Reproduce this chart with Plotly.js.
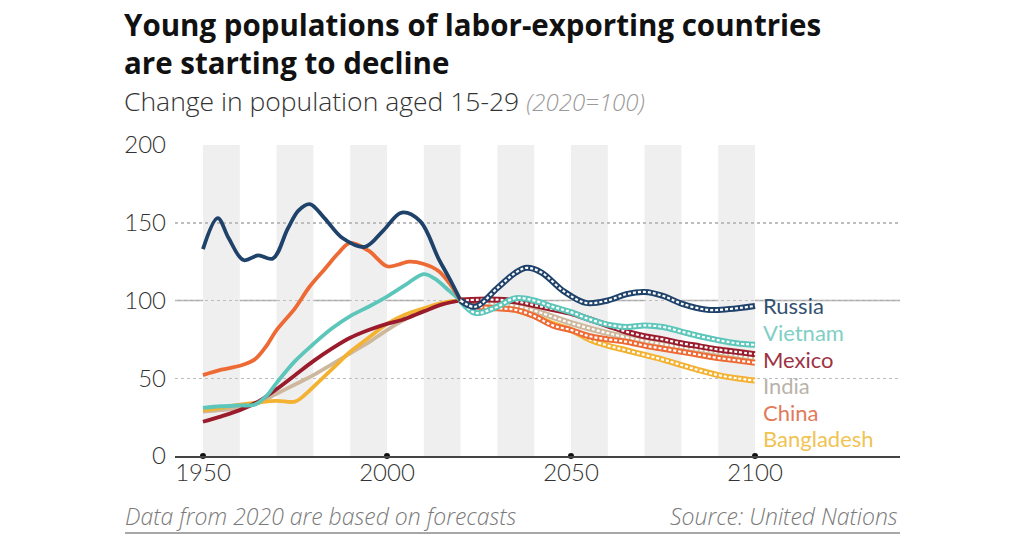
<!DOCTYPE html>
<html>
<head>
<meta charset="utf-8">
<script src="https://cdn.plot.ly/plotly-3.0.1.min.js"></script>
<style>
  html, body { margin: 0; padding: 0; background: #ffffff; }
  #chart { width: 1024px; height: 536px; }
</style>
</head>
<body>
<div id="chart"></div>
<script>
// ---------- data (index, 2020 = 100) ----------
const countries = ["Russia", "Vietnam", "Mexico", "India", "China", "Bangladesh"];

// historical (1950-2020)
const russiaHistYears = [1950,1954,1957,1961,1965,1969,1973,1976,1979,1983,1988,1994,1999,2004,2009,2014,2017,2020];
const russiaHist      = [133,153,140,126,129,127,146,158,162,153,140,134.5,145,156.5,151,127,114,100];

const chinaHistYears = [1950,1955,1960,1964,1967,1970,1975,1979,1983,1987,1990,1995,2000,2003,2006,2010,2014,2017,2020];
const chinaHist      = [52,55.5,58,62,70,81,95,109,120,131,137,132,122,123,125,123.5,119,111,100];

const vietnamHistYears = [1950,1955,1960,1964,1967,1970,1975,1980,1985,1990,1995,2000,2005,2010,2013,2017,2020];
const vietnamHist      = [31,32,32.5,33,38,47,61,72,82,90,96,102.5,110,117,114,106,100];

const mexicoHistYears = [1950,1955,1960,1965,1970,1975,1980,1985,1990,1995,2000,2004,2010,2015,2020];
const mexicoHist      = [22,25.5,29.5,35,43,52,61,69,76,81,85,87.5,93,97.5,100];

const indiaHistYears = [1950,1955,1960,1965,1970,1975,1980,1985,1990,1995,2000,2005,2010,2015,2020];
const indiaHist      = [28.5,29.5,31,34,40,46,52,59,66,73,81,88,94,98,100];

const bangladeshHistYears = [1950,1955,1960,1965,1970,1975,1978,1982,1986,1990,1995,2000,2005,2010,2015,2020];
const bangladeshHist      = [29.5,31,33,34.5,35.5,35,40,49,58,67,76,85,91,95,98.5,100];

// forecasts (2020-2100)
const russiaFcYears = [2020,2024,2030,2035,2038,2042,2048,2054,2060,2065,2070,2075,2080,2087,2093,2100];
const russiaFc      = [100,96,108,118,121,118,106,98.5,100,104,105.5,103,98,94,94.5,96.5];

const vietnamFcYears = [2020,2024,2029,2035,2040,2045,2050,2055,2060,2065,2070,2075,2080,2085,2090,2095,2100];
const vietnamFc      = [100,92,95,101.5,100,96,92.5,88,84.5,83,84,83,80,77,74.5,72.5,71.5];

const mexicoFcYears = [2020,2025,2030,2035,2040,2045,2050,2055,2060,2065,2070,2075,2080,2085,2090,2095,2100];
const mexicoFc      = [100,100.5,100.5,99.5,97,94.5,92,88,84,80,77,75,72.5,70.5,68.5,67,65.5];

const indiaFcYears = [2020,2025,2030,2035,2040,2045,2050,2060,2070,2080,2090,2100];
const indiaFc      = [100,98.5,98,96.5,93.5,89.5,85.5,79,74,70,66.5,63];

const chinaFcYears = [2020,2025,2030,2035,2040,2045,2050,2055,2060,2065,2070,2075,2080,2085,2090,2095,2100];
const chinaFc      = [100,96,95,94,90,84,81,77,75,73.5,71,69,67,65,63,61.5,60];

const bangladeshFcYears = [2020,2025,2030,2035,2040,2045,2050,2055,2060,2065,2070,2075,2080,2085,2090,2095,2100];
const bangladeshFc      = [100,97,96,94,90,85,81,75,71,68,65,62,58.5,55,52,50,48.5];

const xTickVals = [1950, 2000, 2050, 2100];
const yTickVals = [0, 50, 100, 150, 200];

// ---------- styling ----------
const lineColors  = {Russia:"#1f426b", Vietnam:"#5cc6bb", Mexico:"#9a1b2b", India:"#cdb89e", China:"#ee6a35", Bangladesh:"#f4b232"};
const labelColors = {Russia:"#34506f", Vietnam:"#7fcfc5", Mexico:"#9e3242", India:"#b9b3a9", China:"#e27a5a", Bangladesh:"#f0c352"};

const hist = {
  Russia:[russiaHistYears, russiaHist], Vietnam:[vietnamHistYears, vietnamHist],
  Mexico:[mexicoHistYears, mexicoHist], India:[indiaHistYears, indiaHist],
  China:[chinaHistYears, chinaHist], Bangladesh:[bangladeshHistYears, bangladeshHist]
};
const fc = {
  Russia:[russiaFcYears, russiaFc], Vietnam:[vietnamFcYears, vietnamFc],
  Mexico:[mexicoFcYears, mexicoFc], India:[indiaFcYears, indiaFc],
  China:[chinaFcYears, chinaFc], Bangladesh:[bangladeshFcYears, bangladeshFc]
};

const histOrder = ["India","Bangladesh","Mexico","Vietnam","China","Russia"];
const fcOrder   = ["Bangladesh","India","China","Mexico","Vietnam","Russia"];

const traces = [];
histOrder.forEach(c => {
  traces.push({
    x: hist[c][0], y: hist[c][1], type: "scatter", mode: "lines", name: c,
    line: {color: lineColors[c], width: 3.8, shape: "spline", smoothing: 1},
    hoverinfo: "skip", showlegend: false
  });
});
fcOrder.forEach(c => {
  traces.push({
    x: fc[c][0], y: fc[c][1], type: "scatter", mode: "lines", name: c + " (forecast)",
    line: {color: lineColors[c], width: 6, shape: "spline", smoothing: 1},
    hoverinfo: "skip", showlegend: false
  });
  traces.push({
    x: fc[c][0], y: fc[c][1], type: "scatter", mode: "lines", name: c + " (forecast dots)",
    line: {color: "#ffffff", width: 2.2, dash: "3px,2px", shape: "spline", smoothing: 1},
    hoverinfo: "skip", showlegend: false
  });
});
// tick dots on the axis
traces.push({
  x: xTickVals, y: xTickVals.map(() => 0), type: "scatter", mode: "markers",
  marker: {color: "#111111", size: 6}, cliponaxis: false, hoverinfo: "skip", showlegend: false
});

// alternating decade bands
const allYears = [].concat(...countries.map(c => hist[c][0].concat(fc[c][0])));
const firstYear = Math.min(...allYears), lastYear = Math.max(...allYears);
const shapes = [];
for (let y0 = firstYear; y0 < lastYear; y0 += 20) {
  shapes.push({type:"rect", xref:"x", yref:"y", x0:y0, x1:y0+10, y0:0, y1:200,
               fillcolor:"#efefef", line:{width:0}, layer:"below"});
}
// solid reference line at 100
shapes.push({type:"line", xref:"paper", yref:"y", x0:0, x1:1, y0:100, y1:100,
             line:{color:"#a9a9a9", width:1.3}, layer:"below"});
// bottom rule under the footer
const PW = 725, PH = 311, PL = 175, PB = 456;
shapes.push({type:"line", xref:"paper", yref:"paper", x0:(125-PL)/PW, x1:1, y0:(PB-533)/PH, y1:(PB-533)/PH,
             line:{color:"#8a8a8a", width:1.5}});

const FONT = "Lato, 'Open Sans', sans-serif";
const FONT2 = "'Open Sans', Lato, sans-serif";

// right-hand country labels, stacked from Russia's 2100 value
const lastRussia = russiaFc[russiaFc.length - 1];
const annotations = countries.map((c, i) => ({
  xref:"x", yref:"y", x: lastYear, y: lastRussia, xshift: 6, yshift: -i * 26.6,
  xanchor:"left", yanchor:"middle", showarrow:false, text: c,
  font:{family: FONT, size: 22, color: labelColors[c], weight: 400}
}));

// title (two lines in one text)
annotations.push({
  xref:"paper", yref:"paper", x: (122-PL)/PW, y: (PB-44)/PH, xanchor:"left", yanchor:"middle",
  align: "left", showarrow:false,
  text: "Young populations of labor-exporting countries<br>are starting to decline",
  font:{family: FONT2, size: 29.5, color:"#111111", weight: 700}
});
annotations.push({
  xref:"paper", yref:"paper", x: (122-PL)/PW, y: (PB-101)/PH, xanchor:"left", yanchor:"middle",
  showarrow:false,
  text: "Change in population aged 15-29 <span style='color:#9a9a9a;font-style:italic;font-size:24px'>(2020=100)</span>",
  font:{family: FONT2, size: 26.5, color:"#333333", weight: 300}
});
annotations.push({
  xref:"paper", yref:"paper", x: (123-PL)/PW, y: (PB-516)/PH, xanchor:"left", yanchor:"middle",
  showarrow:false, text: "<i>Data from 2020 are based on forecasts</i>",
  font:{family: FONT2, size: 23, color:"#7a7a7a", weight: 300}
});
annotations.push({
  xref:"paper", yref:"paper", x: 1, y: (PB-516)/PH, xanchor:"right", yanchor:"middle",
  showarrow:false, text: "<i>Source: United Nations</i>",
  font:{family: FONT2, size: 23, color:"#7a7a7a", weight: 300}
});

const layout = {
  width: 1024, height: 536,
  margin: {l: PL, r: 1024 - PL - PW, t: PB - PH, b: 536 - PB, pad: 0},
  paper_bgcolor: "#ffffff", plot_bgcolor: "rgba(0,0,0,0)",
  showlegend: false,
  xaxis: {
    range: [1942.4, 2139.4], tickvals: xTickVals, ticktext: xTickVals.map(String),
    showgrid: false, zeroline: false, showline: true, linecolor: "#444444", linewidth: 1.5,
    ticks: "", tickfont: {family: FONT, size: 24, color: "#333333", weight: 300},
    ticklabelstandoff: -5, fixedrange: true
  },
  yaxis: {
    range: [0, 200], tickvals: yTickVals, ticktext: yTickVals.map(String),
    showgrid: true, gridcolor: "#bdbdbd", gridwidth: 1.5, griddash: "dot",
    zeroline: false, showline: false, ticks: "",
    tickfont: {family: FONT, size: 24, color: "#333333", weight: 300},
    ticklabelstandoff: 8, fixedrange: true
  },
  shapes: shapes,
  annotations: annotations
};

Plotly.newPlot("chart", traces, layout, {displayModeBar: false, staticPlot: true});
</script>
</body>
</html>
